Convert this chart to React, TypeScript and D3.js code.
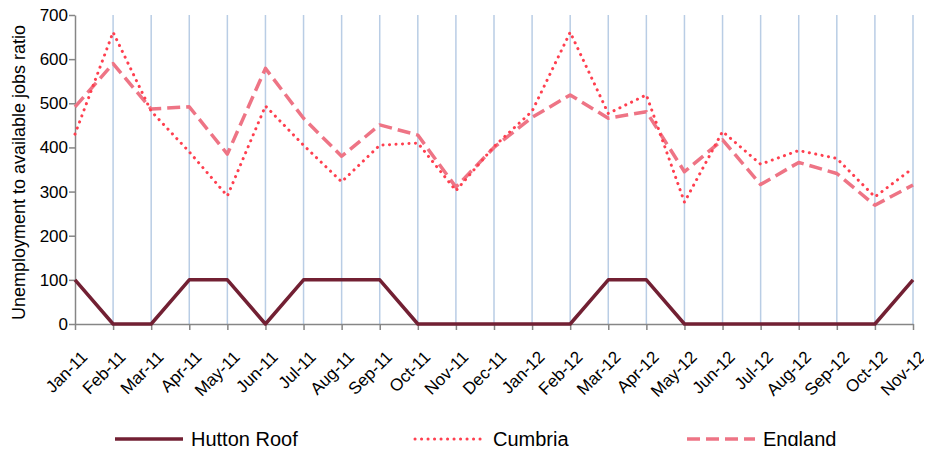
import React, { useEffect, useRef } from "react";
import * as d3 from "d3";

const months = [
  "Jan-11", "Feb-11", "Mar-11", "Apr-11", "May-11", "Jun-11", "Jul-11", "Aug-11",
  "Sep-11", "Oct-11", "Nov-11", "Dec-11", "Jan-12", "Feb-12", "Mar-12", "Apr-12",
  "May-12", "Jun-12", "Jul-12", "Aug-12", "Sep-12", "Oct-12", "Nov-12",
];

const huttonRoof = [100, 0, 0, 100, 100, 0, 100, 100, 100, 0, 0, 0, 0, 0, 100, 100, 0, 0, 0, 0, 0, 0, 100];
const cumbria = [430, 661, 482, 390, 290, 494, 405, 322, 405, 410, 302, 402, 482, 661, 477, 519, 276, 436, 362, 393, 375, 288, 353];
const england = [492, 590, 487, 492, 385, 579, 466, 380, 451, 428, 310, 400, 468, 519, 466, 481, 345, 417, 316, 366, 341, 269, 315];

const yTicks = [0, 100, 200, 300, 400, 500, 600, 700];

const series = [
  { name: "Hutton Roof", values: huttonRoof, color: "#722033", dash: "none", width: 3.5, cap: "butt" },
  { name: "Cumbria", values: cumbria, color: "#FF3F4F", dash: "0.1,6.4", width: 3, cap: "round" },
  { name: "England", values: england, color: "#EE7485", dash: "13,6", width: 3.5, cap: "butt" },
];

const App = () => {
  const svgRef = useRef<SVGSVGElement>(null);

  useEffect(() => {
    const svg = d3.select(svgRef.current);
    svg.selectAll("*").remove();

    const left = 75;
    const right = 913;
    const top = 15;
    const bottom = 324;
    const font = "Liberation Sans, Arial, sans-serif";

    const x = d3.scalePoint<string>().domain(months).range([left, right]);
    const y = d3.scaleLinear().domain([0, 700]).range([bottom, top]);

    // vertical gridlines
    svg
      .append("g")
      .selectAll("line")
      .data(months.slice(1))
      .join("line")
      .attr("x1", (d) => x(d)!)
      .attr("x2", (d) => x(d)!)
      .attr("y1", top)
      .attr("y2", bottom)
      .attr("stroke", "#B9CDE5")
      .attr("stroke-width", 1.5);

    // y axis
    const yAxis = svg
      .append("g")
      .attr("transform", `translate(${left},0)`)
      .call(d3.axisLeft(y).tickValues(yTicks).tickSize(6).tickSizeOuter(0));
    yAxis.select(".domain").attr("stroke", "#868686").attr("stroke-width", 1.5);
    yAxis.selectAll(".tick line").attr("stroke", "#868686").attr("stroke-width", 1.5);
    yAxis
      .selectAll(".tick text")
      .attr("font-family", font)
      .attr("font-size", 17)
      .attr("fill", "#000")
      .attr("x", -7);

    // x axis
    const xAxis = svg
      .append("g")
      .attr("transform", `translate(0,${bottom})`)
      .call(d3.axisBottom(x).tickSize(6).tickSizeOuter(0));
    xAxis.select(".domain").attr("stroke", "#868686").attr("stroke-width", 1.5);
    xAxis.selectAll(".tick line").attr("stroke", "#868686").attr("stroke-width", 1.5);
    xAxis
      .selectAll(".tick text")
      .attr("font-family", font)
      .attr("font-size", 17)
      .attr("fill", "#000")
      .attr("text-anchor", "end")
      .attr("dy", 0)
      .attr("y", 0)
      .attr("transform", "translate(13,34) rotate(-45)");

    // y axis title
    svg
      .append("text")
      .attr("transform", `translate(25,${(top + bottom) / 2 + 3}) rotate(-90)`)
      .attr("text-anchor", "middle")
      .attr("font-family", font)
      .attr("font-size", 18)
      .text("Unemployment to available jobs ratio");

    const line = d3
      .line<number>()
      .x((_, i) => x(months[i])!)
      .y((d) => y(d));

    // draw England, Cumbria, then Hutton Roof on top
    [series[2], series[1], series[0]].forEach((s) => {
      svg
        .append("path")
        .datum(s.values)
        .attr("d", line)
        .attr("fill", "none")
        .attr("stroke", s.color)
        .attr("stroke-width", s.width)
        .attr("stroke-dasharray", s.dash)
        .attr("stroke-linecap", s.cap)
        .attr("stroke-linejoin", "round");
    });

    // legend
    const legendX = [115, 415, 687];
    const legend = svg
      .append("g")
      .selectAll("g")
      .data(series)
      .join("g")
      .attr("transform", (_, i) => `translate(${legendX[i]},439)`);
    legend
      .append("line")
      .attr("x1", 0)
      .attr("x2", 68)
      .attr("stroke", (d) => d.color)
      .attr("stroke-width", (d) => d.width)
      .attr("stroke-dasharray", (d) => d.dash)
      .attr("stroke-linecap", (d) => d.cap);
    legend
      .append("text")
      .attr("x", (d, i) => (i === 1 ? 78 : 76))
      .attr("dy", "0.35em")
      .attr("font-family", font)
      .attr("font-size", 20)
      .text((d) => d.name);
  }, []);

  return <svg ref={svgRef} width={932} height={454} style={{ display: "block", margin: "-8px" }}></svg>;
};

export default App;
